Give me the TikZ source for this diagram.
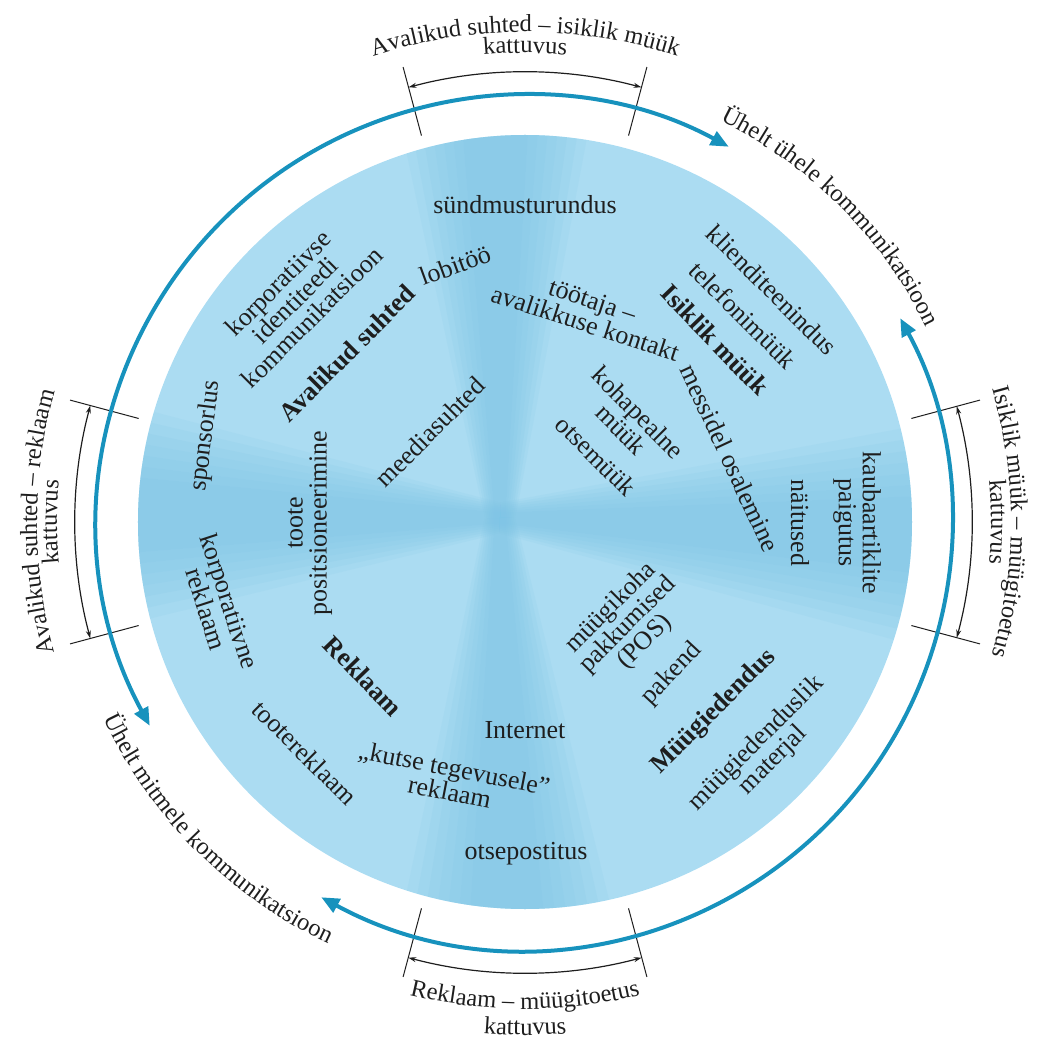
\documentclass[tikz,border=0pt]{standalone}
\usepackage{fontspec}
\setmainfont{Liberation Serif}
\usetikzlibrary{arrows.meta,decorations.text,calc}

\definecolor{discbase}{HTML}{ABDCF2}
\definecolor{discray}{HTML}{7EC5E6}
\definecolor{ringblue}{HTML}{1792BD}
\definecolor{inkdark}{HTML}{1E1E1E}

\newcommand\lblfont{\fontsize{26}{24}\selectfont}
\newcommand\capfont{\fontsize{24.5}{23}\selectfont}

\begin{document}
\begin{tikzpicture}[x=1pt,y=1pt,
  lbl/.style={font=\lblfont, text=inkdark, align=center, inner sep=0pt},
  hd/.style={lbl, font=\lblfont\bfseries},
  ringarc/.style={line width=4pt, draw=ringblue,
    {Triangle[length=18pt,width=15pt]}-{Triangle[length=18pt,width=15pt]}},
  spanarc/.style={line width=1.2pt, draw=inkdark,
    {Stealth[length=8pt,width=5pt]}-{Stealth[length=8pt,width=5pt]}},
  tickline/.style={line width=1pt, draw=inkdark},
  curvetext/.style={decorate, decoration={text along path,
    text={|\capfont|#1}, text color=inkdark, text align=center}},
]
\useasboundingbox (-525,-519) rectangle (513,522);

% disc with soft darker rays widening outwards from a narrow cross
\fill[discbase] (0,0) circle (387);
\begin{scope}
  \clip (0,0) circle (387);
  \coordinate (P) at (-25,4);
  \foreach \c/\h in {90.7/9, 179.5/11, 271/10, -2.3/10} {
    \foreach \k in {0.5,0.65,0.8,0.95,1.1,1.25,1.4} {
      \fill[discray, opacity=0.13]
        ($(P)+(\c+90:\k*11)$) -- ($(P)+(\c+\k*\h:700)$)
        -- ($(P)+(\c-\k*\h:700)$) -- ($(P)+(\c-90:\k*11)$) -- cycle;
    }
  }
\end{scope}

% radial ticks marking the overlap zones
\foreach \a in {15,75,105,165,195,255,285,345} {
  \coordinate (ti\a) at (\a:400);
  \coordinate (to\a) at (\a:471);
  \draw[tickline] (ti\a) -- (to\a);
}

% overlap spans
\coordinate (sTop) at (105:450);
\coordinate (sLeft) at (195:450);
\coordinate (sRight) at (15:447);
\coordinate (sBot) at (255:451);
\draw[spanarc] (sTop) arc[start angle=105, end angle=75, radius=450];
\draw[spanarc] (sLeft) arc[start angle=195, end angle=165, radius=450];
\draw[spanarc] (sRight) arc[start angle=15, end angle=-15, radius=447];
\draw[spanarc] (sBot) arc[start angle=255, end angle=285, radius=451];

% communication direction arcs
\coordinate (rA) at (208.5:427);
\coordinate (rB) at (241.5:427);
\draw[ringarc] (rA) arc[start angle=208.5, end angle=61.5, radius=427];
\draw[ringarc] (rB) arc[start angle=241.5, end angle=388.5, radius=427];

% curved outer captions
\path[curvetext={Avalikud suhted – isiklik müük}] (130:490) arc[start angle=130, end angle=50, radius=490];
\path[curvetext={kattuvus}] (120:469) arc[start angle=120, end angle=60, radius=469];
\path[curvetext={Avalikud suhted – reklaam}] (220:488) arc[start angle=220, end angle=140, radius=488];
\path[curvetext={kattuvus}] (210:468) arc[start angle=210, end angle=150, radius=468];
\path[curvetext={Isiklik müük – müügitoetus}] (40:486) arc[start angle=40, end angle=-40, radius=486];
\path[curvetext={kattuvus}] (30:466) arc[start angle=30, end angle=-30, radius=466];
\path[curvetext={Reklaam – müügitoetus}] (230:487) arc[start angle=230, end angle=310, radius=487];
\path[curvetext={kattuvus}] (240:513) arc[start angle=240, end angle=300, radius=513];
\path[curvetext={Ühelt ühele kommunikatsioon}] (85:446) arc[start angle=85, end angle=5, radius=446];
\path[curvetext={Ühelt mitmele kommunikatsioon}] (190:465) arc[start angle=190, end angle=260, radius=465];

% inner labels
\node[lbl] (sund) at (0,317) {sündmusturundus};
\node[lbl, rotate=20] (lobi) at (-70,257) {lobitöö};
\node[lbl, rotate=45] (korpid) at (-230,222) {korporatiivse\\identiteedi\\kommunikatsioon};
\node[hd, rotate=45] (avsuh) at (-178,169) {Avalikud suhted};
\node[lbl, rotate=83] (spons) at (-319,86) {sponsorlus};
\node[lbl, rotate=45] (meedia) at (-95,90) {meediasuhted};
\node[lbl, rotate=90] (toote) at (-215,-1) {toote\\positsioneerimine};
\node[lbl, rotate=-72] (korprek) at (-307,-83) {korporatiivne\\reklaam};
\node[hd, rotate=-46] (rekl) at (-162,-154) {Reklaam};
\node[lbl, rotate=-45] (toorek) at (-220,-231) {tootereklaam};
\node[lbl, rotate=-11] (kutse) at (-73,-258) {„kutse tegevusele”\\reklaam};
\node[lbl] (inet) at (0,-208) {Internet};
\node[lbl] (otsep) at (1,-332) {otsepostitus};
\node[lbl, rotate=-18] (tootaja) at (64,210) {töötaja –\\avalikkuse kontakt};
\node[hd, rotate=-46] (isik) at (190,182) {Isiklik müük};
\node[lbl, rotate=-45] (tele) at (218,207) {telefonimüük};
\node[lbl, rotate=-45] (klient) at (247,232) {klienditeenindus};
\node[lbl, rotate=-45] (koha) at (105,101) {kohapealne\\müük};
\node[lbl, rotate=-45] (otsem) at (71,66) {otsemüük};
\node[lbl, rotate=-65] (messid) at (205,64) {messidel osalemine};
\node[lbl, rotate=-90] (naitus) at (275,-1) {näitused};
\node[lbl, rotate=-90] (kauba) at (332,-1) {kaubaartiklite\\paigutus};
\node[lbl, rotate=45] (pos) at (103,-103) {müügikoha\\pakkumised\\(POS)};
\node[lbl, rotate=47] (pakend) at (147,-152) {pakend};
\node[hd, rotate=45] (myyg) at (189,-190) {Müügiedendus};
\node[lbl, rotate=45] (materj) at (240,-230) {müügiedenduslik\\materjal};
\end{tikzpicture}
\end{document}
